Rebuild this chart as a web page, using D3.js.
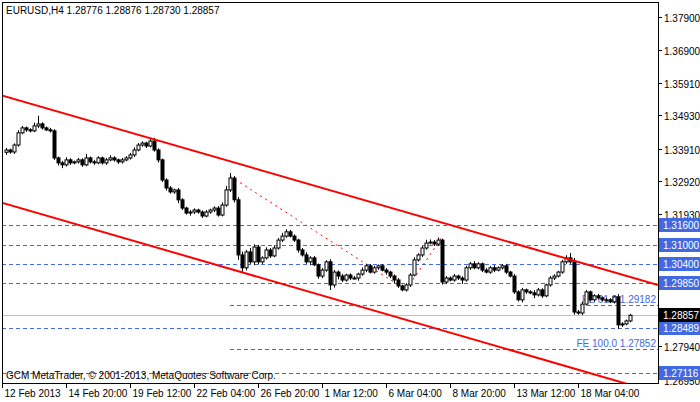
<!DOCTYPE html>
<html><head><meta charset="utf-8">
<script src="https://cdn.jsdelivr.net/npm/d3@7"></script>
<style>body{margin:0;background:#fff}svg{display:block}text{font-family:"Liberation Sans",Arial,sans-serif;font-size:10px}</style>
</head><body><svg id="c" width="700" height="402"></svg>
<script>
const closes=[1.3387,1.3381,1.3402,1.3439,1.3454,1.3448,1.3445,1.3460,1.3466,1.3454,1.3448,1.3445,1.3363,1.3348,1.3342,1.3357,1.3348,1.3351,1.3357,1.3342,
1.3363,1.3351,1.3348,1.3363,1.3348,1.3357,1.3363,1.3357,1.3351,1.3357,1.3363,1.3372,1.3387,1.3402,1.3408,1.3399,1.3414,1.3387,1.3357,1.3296,
1.3272,1.3260,1.3266,1.3236,1.3211,1.3196,1.3199,1.3205,1.3199,1.3187,1.3199,1.3205,1.3211,1.3190,1.3220,1.3266,1.3302,1.3236,1.3069,1.3030,
1.3078,1.3048,1.3093,1.3048,1.3060,1.3084,1.3066,1.3090,1.3114,1.3126,1.3139,1.3126,1.3114,1.3084,1.3069,1.3048,1.3060,1.3039,1.3005,1.3023,
1.3048,1.2978,1.3017,1.3005,1.2993,1.3008,1.2999,1.2999,1.3011,1.3023,1.3036,1.3017,1.3030,1.3036,1.3023,1.3017,1.3005,1.2993,1.2975,1.2963,
1.2978,1.3008,1.3054,1.3069,1.3090,1.3105,1.3108,1.3102,1.3114,1.2987,1.2999,1.2993,1.3005,1.2999,1.2993,1.3030,1.3042,1.3030,1.3042,1.3023,
1.3017,1.3030,1.3023,1.3030,1.3036,1.3017,1.3005,1.2957,1.2933,1.2963,1.2957,1.2954,1.2948,1.2963,1.2945,1.2978,1.2999,1.3005,1.3017,1.3048,
1.3060,1.3048,1.2896,1.2893,1.2920,1.2957,1.2933,1.2945,1.2939,1.2933,1.2933,1.2927,1.2942,1.2857,1.2860,1.2869,1.2886];
const firstOpen=1.3380;
const wickUp=[6,4,5,8,6,4,5,10,25,5,4,6,5,4,6,8,5,4,6,5,12,4,6,5,4,6,8,5,4,6,5,6,8,6,5,4,8,10,5,4,
5,6,4,6,5,4,6,5,4,5,6,4,5,6,8,12,15,6,8,10,6,12,8,6,5,8,6,8,6,10,8,6,5,4,6,8,5,6,4,6,
5,8,6,5,6,4,5,6,4,8,6,5,6,4,5,6,4,5,6,4,5,6,8,5,6,10,8,6,8,4,6,5,6,4,5,6,6,8,5,4,
6,5,8,4,5,6,4,6,5,6,4,5,8,6,5,4,6,5,4,6,8,15,12,6,8,6,4,5,6,4,6,5,4,8,5,4,4];
const wickDn=[8,5,6,5,4,6,5,4,6,5,4,5,6,8,10,5,6,4,5,6,4,5,6,4,5,6,4,5,6,5,4,5,6,4,5,6,4,5,8,6,
8,5,6,10,6,5,8,6,5,6,4,5,6,5,4,5,6,8,15,12,8,6,10,8,6,5,6,4,5,6,5,4,6,8,5,6,10,4,8,6,
5,15,8,10,6,5,6,4,8,5,6,4,5,6,4,8,6,10,6,4,5,6,4,5,6,5,4,6,5,8,6,4,5,6,12,5,6,4,5,6,
4,5,6,4,5,6,4,6,5,8,6,4,10,5,6,4,5,6,4,5,6,6,8,5,6,4,5,6,4,5,6,4,5,12,6,4,4];
const timeLabels=["12 Feb 2013","14 Feb 20:00","19 Feb 12:00","22 Feb 04:00","26 Feb 20:00","1 Mar 12:00","6 Mar 04:00","8 Mar 20:00","13 Mar 12:00","18 Mar 04:00"];
const priceTicks=[1.37900,1.36900,1.35910,1.34930,1.33910,1.32920,1.31930,1.30950,1.29960,1.28960,1.27940,1.26950];
const levels=[1.31600,1.31000,1.30400,1.29850,1.28489,1.27116];
const feLevels=[{v:1.29182,t:"FE 61.8 1.29182"},{v:1.27852,t:"FE 100.0 1.27852"}];
const lastPrice=1.28857;
const upperChannel=[[-1.5,1.3554],[163,1.2978]];
const lowerChannel=[[-1.5,1.3229],[163,1.2651]];
const fibPoints=[[56,1.3308],[100,1.2963],[109,1.3123]];

const svg=d3.select("#c");
const L=2,R=658,T=2,B=383;
const x=d3.scaleLinear().domain([0,156]).range([6,630]);
const y=d3.scaleLinear().domain([1.379,1.269]).range([17,380]);
const blue="#4169e1";
svg.append("clipPath").attr("id","pc").append("rect").attr("x",L).attr("y",T).attr("width",R-L).attr("height",B-T);
const g=svg.append("g").attr("clip-path","url(#pc)");

levels.forEach(v=>g.append("line").attr("x1",L).attr("x2",R).attr("y1",Math.round(y(v))+.5).attr("y2",Math.round(y(v))+.5).attr("stroke",blue).attr("stroke-dasharray","4,3"));
feLevels.forEach(f=>{const yy=Math.round(y(f.v))+.5;
 g.append("line").attr("x1",x(56)).attr("x2",R).attr("y1",yy).attr("y2",yy).attr("stroke",blue).attr("stroke-dasharray","4,3");
 g.append("text").attr("x",R-2).attr("y",yy-3).attr("text-anchor","end").attr("fill",blue).text(f.t);});
g.append("line").attr("x1",L).attr("x2",R).attr("y1",Math.round(y(lastPrice))+.5).attr("y2",Math.round(y(lastPrice))+.5).attr("stroke","#c0c0c0");

const line=d3.line().x(d=>x(d[0])).y(d=>y(d[1]));
g.append("path").attr("d",line(fibPoints)).attr("fill","none").attr("stroke","red").attr("stroke-dasharray","2,4");

const data=closes.map((c,i)=>{const o=i?closes[i-1]:firstOpen;return{i,o,c,h:Math.max(o,c)+wickUp[i]*1e-4,l:Math.min(o,c)-wickDn[i]*1e-4};});
const cg=g.append("g");
data.forEach(d=>{const cx=Math.round(x(d.i))+.5;
 cg.append("line").attr("x1",cx).attr("x2",cx).attr("y1",y(d.h)).attr("y2",y(d.l)).attr("stroke","#000");
 const top=y(Math.max(d.o,d.c)),bot=y(Math.min(d.o,d.c));
 cg.append("rect").attr("x",cx-1.5).attr("y",top).attr("width",3).attr("height",Math.max(1,bot-top)).attr("fill",d.c>=d.o?"#fff":"#000").attr("stroke","#000").attr("stroke-width",1);
});
[upperChannel,lowerChannel].forEach(c=>g.append("path").attr("d",line(c)).attr("fill","none").attr("stroke","red").attr("stroke-width",2));

svg.append("rect").attr("x",L+.5).attr("y",T+.5).attr("width",R-L).attr("height",B-T).attr("fill","none").attr("stroke","#000");

const boxed=levels.concat([lastPrice]);
priceTicks.forEach(v=>{const yy=Math.round(y(v))+.5;
 svg.append("line").attr("x1",R).attr("x2",R+4).attr("y1",yy).attr("y2",yy).attr("stroke","#000");
 const hidden=boxed.some(b=>Math.abs(y(b)-y(v))<9);
 if(!hidden||v<1.27) svg.append("text").attr("x",R+6).attr("y",hidden?Math.max(yy+4,y(1.27116)+12):yy+4).attr("fill","#000").text(v.toFixed(5));});
function box(v,bg){const yy=Math.round(y(v));
 svg.append("rect").attr("x",R+1).attr("y",yy-7).attr("width",41).attr("height",14).attr("fill",bg);
 svg.append("text").attr("x",R+5).attr("y",yy+4).attr("fill","#fff").text(v.toFixed(5));}
levels.forEach(v=>box(v,blue));
box(lastPrice,"#000");

timeLabels.forEach((t,k)=>{const xx=Math.round(x(16*k))-4+.5;
 svg.append("line").attr("x1",xx).attr("x2",xx).attr("y1",B).attr("y2",B+5).attr("stroke","#000");
 svg.append("text").attr("x",xx+2).attr("y",397).attr("fill","#000").text(t);});

svg.append("text").attr("x",6).attr("y",14).attr("fill","#000").text("EURUSD,H4  1.28776 1.28876 1.28730 1.28857");
svg.append("text").attr("x",6).attr("y",379).attr("fill","#000").text("GCM MetaTrader, © 2001-2013, MetaQuotes Software Corp.");
</script></body></html>
